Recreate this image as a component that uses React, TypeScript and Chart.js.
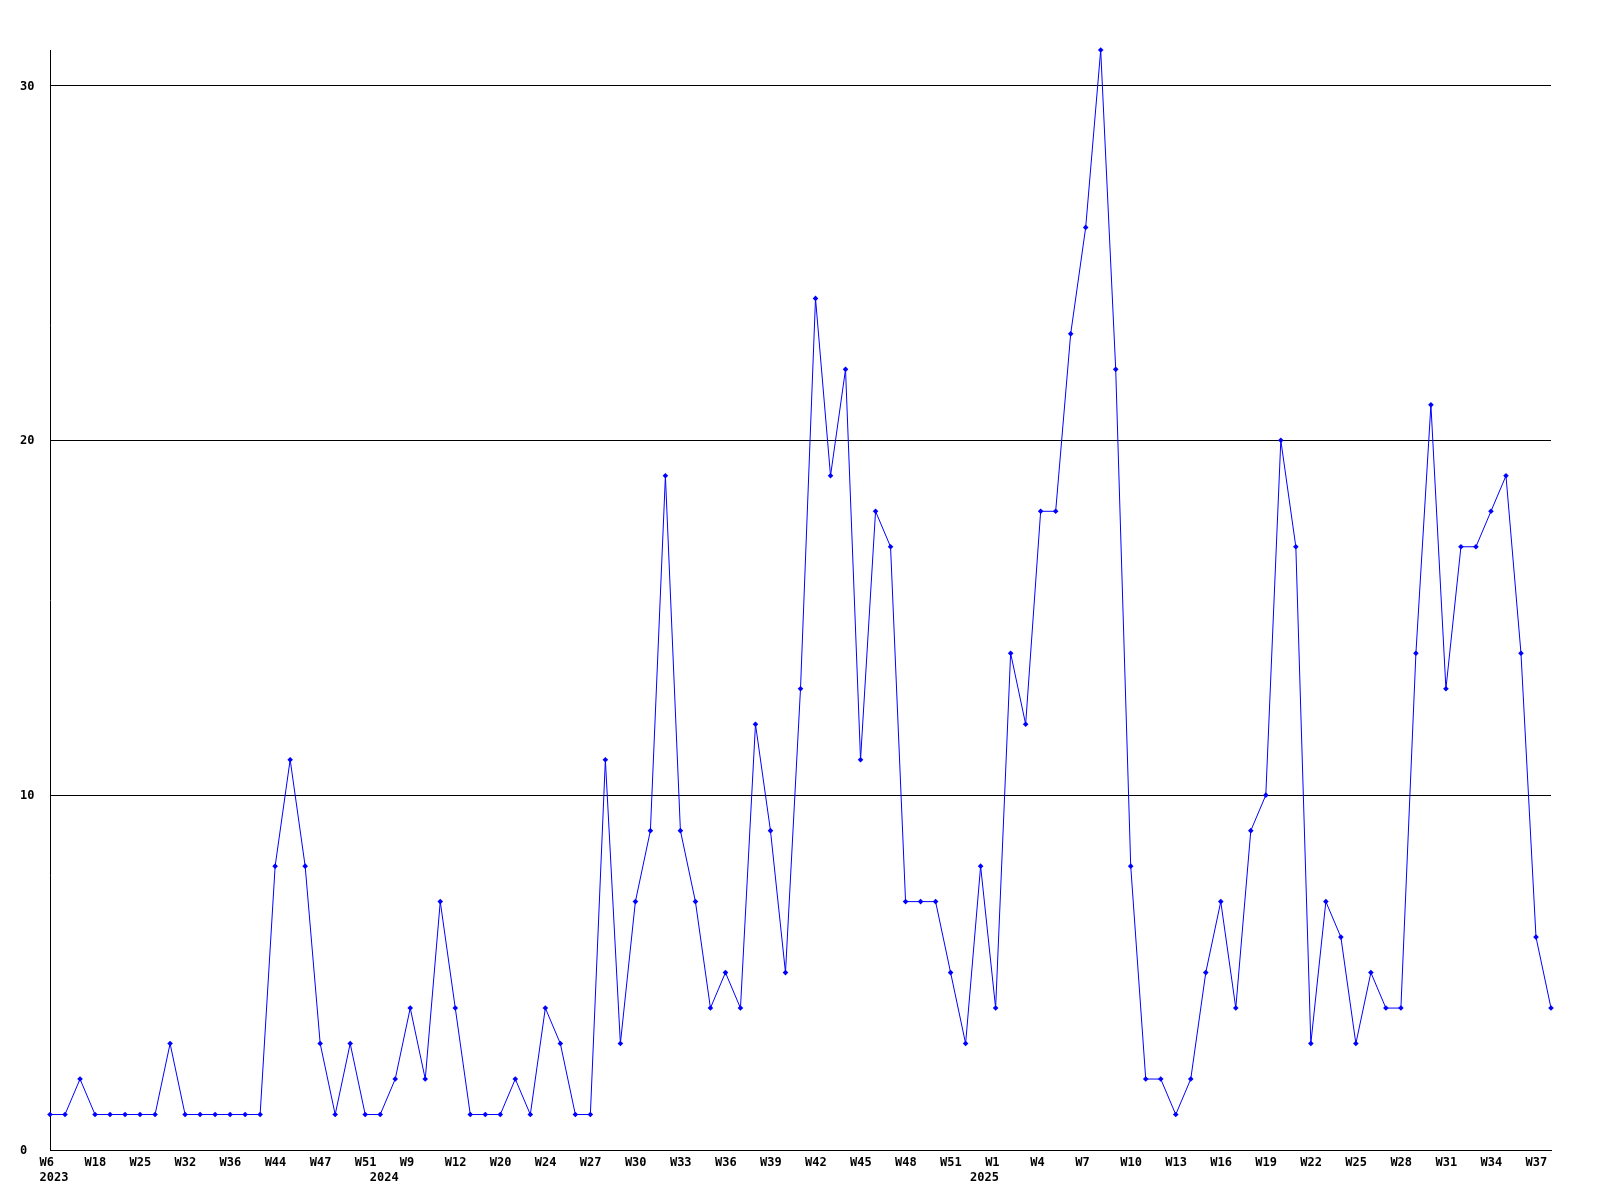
import React, { useEffect, useRef } from "react";
import { Chart, registerables } from "chart.js";

Chart.register(...registerables);

// Weekly counts, one value per plotted category (left to right)
const values: number[] = [
  1, 1, 2, 1, 1, 1, 1, 1, 3, 1, 1, 1, 1, 1, 1, 8, 11, 8, 3, 1, 3, 1, 1, 2, 4, 2, 7, 4,
  1, 1, 1, 2, 1, 4, 3, 1, 1, 11, 3, 7, 9, 19, 9, 7, 4, 5, 4, 12, 9, 5, 13, 24, 19, 22,
  11, 18, 17, 7, 7, 7, 5, 3, 8, 4, 14, 12, 18, 18, 23, 26, 31, 22, 8, 2, 2, 1, 2, 5, 7,
  4, 9, 10, 20, 17, 3, 7, 6, 3, 5, 4, 4, 14, 21, 13, 17, 17, 18, 19, 14, 6, 4,
];

// Week tick labels, shown on every third category
const weekTicks: string[] = [
  "W6", "W18", "W25", "W32", "W36", "W44", "W47", "W51", "W9", "W12", "W20", "W24",
  "W27", "W30", "W33", "W36", "W39", "W42", "W45", "W48", "W51", "W1", "W4", "W7",
  "W10", "W13", "W16", "W19", "W22", "W25", "W28", "W31", "W34", "W37",
];
const weekTickEvery = 3;

// Year labels and the category where each year begins
const yearLabels: string[] = ["2023", "2024", "2025"];
const yearStarts: number[] = [0, 22, 62];

// Y axis
const yMin = 0;
const yMax = 31;
const yStep = 10;

const categories: string[][] = values.map((_, i) => {
  const week = i % weekTickEvery === 0 ? weekTicks[i / weekTickEvery] ?? "" : "";
  const yi = yearStarts.indexOf(i);
  const year = yi >= 0 ? yearLabels[yi] : "";
  return [week, year];
});

const FONT = {
  family: "'DejaVu Sans Mono', 'Liberation Mono', monospace",
  size: 12,
  weight: "bold" as const,
  lineHeight: "15px",
};

export default function App() {
  const ref = useRef<HTMLCanvasElement | null>(null);

  useEffect(() => {
    if (!ref.current) return;
    const chart = new Chart(ref.current, {
      type: "line",
      data: {
        labels: categories,
        datasets: [
          {
            data: values,
            borderColor: "#0000ff",
            backgroundColor: "#0000ff",
            borderWidth: 1,
            tension: 0,
            pointStyle: "rectRot",
            pointRadius: 2.8,
            pointBorderWidth: 0,
            pointBackgroundColor: "#0000ff",
            clip: false as any,
          },
        ],
      },
      options: {
        responsive: false,
        animation: false,
        devicePixelRatio: 1,
        layout: { padding: { left: 20, right: 49, top: 50, bottom: 0 } },
        plugins: {
          legend: { display: false },
          tooltip: { enabled: false },
        },
        scales: {
          x: {
            type: "category",
            offset: false,
            grid: { display: false, drawTicks: false },
            border: { display: true, color: "#000000", width: 1 },
            ticks: {
              autoSkip: false,
              maxRotation: 0,
              minRotation: 0,
              align: "start",
              labelOffset: -10.5,
              padding: 5,
              color: "#000000",
              font: FONT,
            },
            afterFit: (scale: any) => {
              scale.height = 50;
            },
          },
          y: {
            type: "linear",
            min: yMin,
            max: yMax,
            grid: { color: "#000000", lineWidth: 1, drawTicks: false },
            border: { display: true, color: "#000000", width: 1 },
            ticks: {
              stepSize: yStep,
              includeBounds: false,
              crossAlign: "far",
              padding: 4,
              labelOffset: 1,
              color: "#000000",
              font: FONT,
            },
            afterFit: (scale: any) => {
              scale.width = 30;
            },
          },
        },
      },
    });
    return () => chart.destroy();
  }, []);

  return (
    <div style={{ position: "absolute", left: 0, top: 0, width: 1600, height: 1200, background: "#ffffff" }}>
      <canvas ref={ref} width={1600} height={1200} />
    </div>
  );
}
